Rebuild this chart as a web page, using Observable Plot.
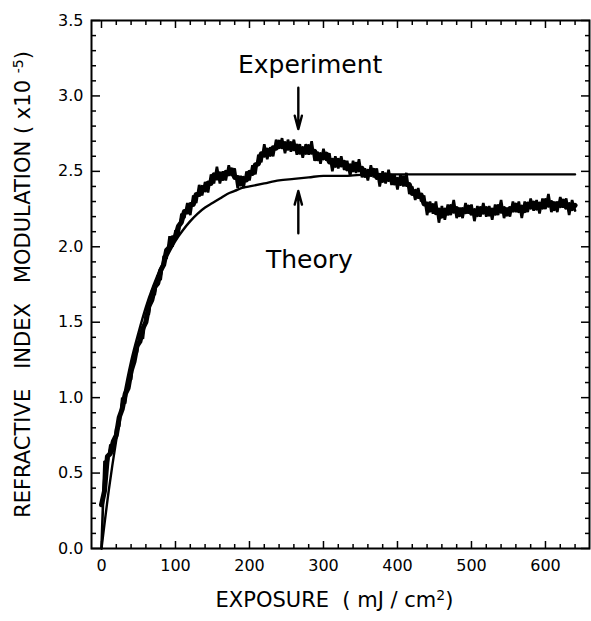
<!DOCTYPE html>
<html><head><meta charset="utf-8">
<script src="https://cdn.jsdelivr.net/npm/d3@7"></script>
<script src="https://cdn.jsdelivr.net/npm/@observablehq/plot@0.6"></script>
<style>body{margin:0;background:#fff}</style>
</head><body><div id="chart"></div>
<script>
// Experiment: exposure sampled every 4 mJ/cm2 from 0 (noisy trace)
const experimentStep = 4;
const experimentValues = [
0.00,0.58,0.56,0.69,0.64,0.80,0.81,1.00,0.96,1.11,1.12,1.30,1.30,1.43,1.39,1.56,1.55,1.71,1.68,1.81,
1.78,1.94,1.92,2.07,2.00,2.11,2.08,2.22,2.19,2.29,2.21,2.34,2.29,2.41,2.34,2.43,2.36,2.48,2.42,2.53,
2.42,2.50,2.44,2.54,2.47,2.52,2.39,2.47,2.39,2.50,2.44,2.54,2.48,2.61,2.56,2.68,2.58,2.66,2.60,2.71,
2.65,2.72,2.62,2.71,2.63,2.71,2.61,2.68,2.59,2.68,2.61,2.70,2.57,2.63,2.55,2.65,2.57,2.62,2.50,2.60,
2.52,2.60,2.51,2.57,2.47,2.57,2.49,2.58,2.46,2.52,2.44,2.54,2.46,2.52,2.40,2.50,2.42,2.51,2.41,2.48,
2.38,2.48,2.40,2.49,2.35,2.40,2.31,2.39,2.30,2.34,2.21,2.30,2.22,2.30,2.16,2.27,2.18,2.28,2.21,2.31,
2.19,2.26,2.19,2.29,2.22,2.28,2.17,2.27,2.20,2.29,2.20,2.27,2.18,2.28,2.21,2.31,2.19,2.26,2.20,2.30,
2.23,2.30,2.19,2.30,2.23,2.32,2.24,2.31,2.22,2.32,2.25,2.35,2.23,2.30,2.23,2.33,2.26,2.32,2.21,2.31,
2.24];
// Theory curve
const theoryX = [0,10,20,30,40,50,60,70,80,90,100,110,120,130,140,150,160,170,180,190,200,220,240,260,280,300,330,360,400,450,500,550,600,640];
const theoryY = [0,0.39,0.72,1.00,1.24,1.43,1.60,1.74,1.86,1.95,2.04,2.11,2.17,2.22,2.26,2.29,2.32,2.35,2.37,2.39,2.40,2.42,2.44,2.45,2.46,2.47,2.47,2.48,2.48,2.48,2.48,2.48,2.48,2.48];

const xMajorTicks = [0,100,200,300,400,500,600];
const xMinorTicks = [20,40,60,80,120,140,160,180,220,240,260,280,320,340,360,380,420,440,460,480,520,540,560,580,620,640];
const yMajorTicks = [0,0.5,1.0,1.5,2.0,2.5,3.0,3.5];
const yMinorTicks = [0.1,0.2,0.3,0.4,0.6,0.7,0.8,0.9,1.1,1.2,1.3,1.4,1.6,1.7,1.8,1.9,2.1,2.2,2.3,2.4,2.6,2.7,2.8,2.9,3.1,3.2,3.3,3.4];

const annotationLabels = ["Experiment","Theory"];
const annotationX = [282,281];
const annotationY = [3.15,1.86];
const arrowX = [266,266];
const arrowFromY = [3.055,2.09];
const arrowToY = [2.78,2.37];

const xLabel = "EXPOSURE\u00a0\u00a0( mJ / cm2)";
const yLabel = "REFRACTIVE\u00a0\u00a0\u00a0INDEX\u00a0\u00a0\u00a0MODULATION\u00a0( x10 -5)";

const experiment = experimentValues.map((v, i) => ({x: i * experimentStep, y: v}));
const theory = theoryX.map((x, i) => ({x, y: theoryY[i]}));
const annotations = annotationLabels.map((t, i) => ({t, x: annotationX[i], y: annotationY[i]}));
const arrows = arrowX.map((x, i) => ({x, y1: arrowFromY[i], y2: arrowToY[i]}));

const tickStyle = {stroke: "black", strokeWidth: 1.5, fill: "none", label: null};

const plot = Plot.plot({
  width: 591, height: 621,
  marginLeft: 91, marginRight: 2, marginTop: 20, marginBottom: 73,
  style: {fontFamily: "'DejaVu Sans', sans-serif", background: "white", color: "black"},
  x: {domain: [-13.5, 659.5]},
  y: {domain: [0, 3.5]},
  marks: [
    Plot.axisX(xMajorTicks, {anchor: "bottom", ...tickStyle, tickSize: -7}),
    Plot.axisX(xMinorTicks, {anchor: "bottom", ...tickStyle, tickSize: -4}),
    Plot.axisX(xMajorTicks, {anchor: "top", ...tickStyle, tickSize: -7}),
    Plot.axisX(xMinorTicks, {anchor: "top", ...tickStyle, tickSize: -4}),
    Plot.axisY(yMajorTicks, {anchor: "left", ...tickStyle, tickSize: -9}),
    Plot.axisY(yMinorTicks, {anchor: "left", ...tickStyle, tickSize: -5}),
    Plot.axisY(yMajorTicks, {anchor: "right", ...tickStyle, tickSize: -9}),
    Plot.axisY(yMinorTicks, {anchor: "right", ...tickStyle, tickSize: -5}),
    Plot.axisX(xMajorTicks, {anchor: "bottom", tickSize: 0, tickPadding: 11, fontSize: 16, label: null, fill: "black"}),
    Plot.axisY(yMajorTicks, {anchor: "left", tickSize: 0, tickPadding: 8, fontSize: 16, label: null, fill: "black", tickFormat: d3.format(".1f")}),
    Plot.frame({stroke: "black", strokeWidth: 2}),
    Plot.line(theory, {x: "x", y: "y", stroke: "black", strokeWidth: 2.4, curve: "monotone-x"}),
    Plot.line(experiment, Plot.windowY({k: 3, anchor: "middle", strict: false}, {x: "x", y: "y", stroke: "black", strokeWidth: 5})),
    Plot.line(experiment, {x: "x", y: "y", stroke: "black", strokeWidth: 2.6, strokeLinejoin: "miter"}),
    Plot.arrow(arrows, {x: "x", y1: "y1", y2: "y2", stroke: "black", strokeWidth: 2.4, headLength: 12, headAngle: 30}),
    Plot.text(annotations, {x: "x", y: "y", text: "t", fontSize: 25, lineAnchor: "bottom", fill: "black"}),
    Plot.text([xLabel], {frameAnchor: "bottom", dx: -6, dy: 58, text: d => d, fontSize: 21, fill: "black"}),
    Plot.text([yLabel], {frameAnchor: "left", textAnchor: "middle", dx: -68, rotate: -90, text: d => d, fontSize: 21, fill: "black"})
  ]
});
document.getElementById("chart").appendChild(plot);

// superscripts
function superscript(full, sup) {
  d3.select(plot).selectAll("text").filter(function() { return this.textContent === full; }).each(function() {
    const el = d3.select(this);
    const idx = full.lastIndexOf(sup);
    const before = full.slice(0, idx), after = full.slice(idx + sup.length);
    el.text(null);
    el.append("tspan").text(before);
    el.append("tspan").attr("dy", "-7").attr("font-size", "14").text(sup);
    el.append("tspan").attr("dy", "7").text(after);
  });
}
superscript(yLabel, "-5");
superscript(xLabel, "2");
</script>
</body></html>
